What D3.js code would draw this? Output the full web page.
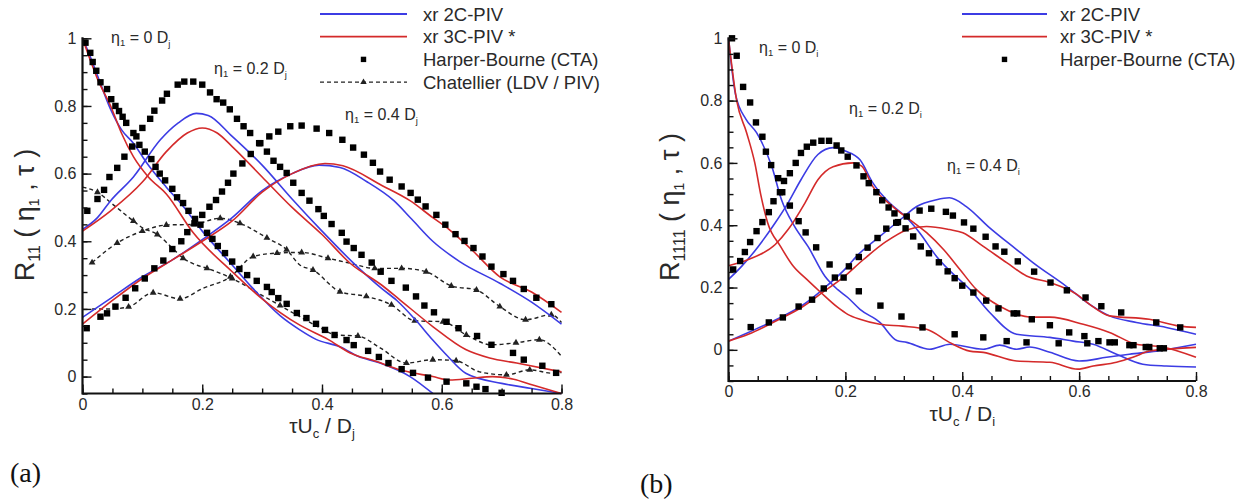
<!DOCTYPE html>
<html><head><meta charset="utf-8">
<script src="https://cdn.jsdelivr.net/npm/d3@7"></script>
<style>body{margin:0;background:#fff}svg{display:block}</style>
</head><body>
<svg id="c" width="1252" height="501"></svg>
<script>
// ---------- tick labels / text ----------
const xTickValues = [0, 0.2, 0.4, 0.6, 0.8];
const xTickLabels = ["0", "0.2", "0.4", "0.6", "0.8"];
const yTickValues = [0, 0.2, 0.4, 0.6, 0.8, 1];
const yTickLabels = ["0", "0.2", "0.4", "0.6", "0.8", "1"];
const legendLabelsA = ["xr 2C-PIV", "xr 3C-PIV *", "Harper-Bourne (CTA)", "Chatellier (LDV / PIV)"];
const legendLabelsB = ["xr 2C-PIV", "xr 3C-PIV *", "Harper-Bourne (CTA)"];
const etaValues = ["0", "0.2", "0.4"];

// ---------- panel (a) : R11 ----------
const a_2C_eta0 = [[0,1],[0.012,0.95],[0.025,0.89],[0.047,0.79],[0.065,0.73],[0.085,0.69],[0.108,0.63],[0.14,0.56],[0.165,0.51],[0.2,0.43],[0.25,0.33],[0.285,0.26],[0.33,0.18],[0.363,0.138],[0.39,0.11],[0.43,0.088],[0.46,0.06],[0.497,0.04],[0.547,0.0],[0.585,-0.05]];
const a_3C_eta0 = [[0,1],[0.012,0.94],[0.025,0.88],[0.047,0.8],[0.065,0.72],[0.085,0.65],[0.11,0.59],[0.14,0.54],[0.185,0.425],[0.25,0.31],[0.3,0.23],[0.363,0.152],[0.41,0.11],[0.447,0.07],[0.49,0.045],[0.53,0.02],[0.585,0.0],[0.613,-0.01],[0.65,-0.005],[0.685,0.0],[0.72,-0.008],[0.752,-0.025],[0.8,-0.05]];
const a_2C_eta2 = [[0,0.435],[0.025,0.47],[0.047,0.52],[0.085,0.59],[0.13,0.7],[0.16,0.75],[0.19,0.778],[0.21,0.772],[0.25,0.71],[0.3,0.625],[0.35,0.525],[0.4,0.43],[0.45,0.34],[0.5,0.26],[0.525,0.225],[0.555,0.17],[0.585,0.108],[0.61,0.06],[0.64,0.01],[0.7,-0.02],[0.75,-0.035],[0.8,-0.05]];
const a_3C_eta2 = [[0,0.43],[0.047,0.49],[0.1,0.575],[0.14,0.665],[0.175,0.72],[0.2,0.735],[0.225,0.72],[0.25,0.68],[0.3,0.59],[0.35,0.5],[0.4,0.42],[0.447,0.335],[0.5,0.27],[0.53,0.227],[0.585,0.148],[0.64,0.08],[0.68,0.055],[0.725,0.04],[0.8,0.014]];
const a_2C_eta4 = [[0,0.175],[0.05,0.235],[0.1,0.295],[0.15,0.345],[0.2,0.405],[0.25,0.47],[0.3,0.55],[0.35,0.6],[0.395,0.625],[0.43,0.618],[0.475,0.576],[0.52,0.52],[0.55,0.465],[0.585,0.4],[0.63,0.34],[0.697,0.276],[0.75,0.22],[0.8,0.155]];
const a_3C_eta4 = [[0,0.155],[0.05,0.225],[0.1,0.29],[0.15,0.345],[0.2,0.4],[0.25,0.46],[0.3,0.545],[0.35,0.6],[0.405,0.63],[0.435,0.623],[0.5,0.565],[0.547,0.52],[0.585,0.47],[0.613,0.434],[0.65,0.375],[0.697,0.295],[0.75,0.25],[0.8,0.19]];

const a_HB_eta0 = [[0.005,0.987],[0.013,0.957],[0.017,0.93],[0.023,0.904],[0.03,0.87],[0.041,0.85],[0.048,0.82],[0.055,0.8],[0.061,0.785],[0.067,0.768],[0.073,0.75],[0.085,0.72],[0.09,0.71],[0.095,0.685],[0.104,0.665],[0.115,0.643],[0.122,0.62],[0.129,0.6],[0.138,0.58],[0.15,0.555],[0.158,0.53],[0.168,0.513],[0.177,0.49],[0.188,0.466],[0.197,0.449],[0.208,0.425],[0.217,0.407],[0.226,0.386],[0.238,0.365],[0.25,0.34],[0.262,0.318],[0.275,0.3],[0.291,0.283],[0.308,0.265],[0.316,0.25],[0.327,0.232],[0.341,0.215],[0.358,0.188],[0.374,0.173],[0.39,0.156],[0.405,0.138],[0.421,0.123],[0.441,0.108],[0.453,0.093],[0.477,0.076],[0.495,0.058],[0.511,0.04],[0.533,0.022],[0.552,0.011],[0.577,-0.003],[0.608,-0.015],[0.641,-0.02],[0.658,-0.03],[0.673,-0.037],[0.7,-0.048]];
const a_HB_eta2 = [[0.008,0.49],[0.025,0.525],[0.036,0.552],[0.045,0.59],[0.058,0.617],[0.07,0.65],[0.083,0.68],[0.1,0.735],[0.113,0.762],[0.12,0.786],[0.133,0.816],[0.141,0.836],[0.159,0.863],[0.17,0.872],[0.185,0.872],[0.2,0.863],[0.213,0.84],[0.224,0.82],[0.235,0.81],[0.246,0.79],[0.258,0.762],[0.269,0.74],[0.28,0.72],[0.295,0.69],[0.308,0.665],[0.319,0.638],[0.33,0.62],[0.341,0.602],[0.352,0.573],[0.366,0.543],[0.379,0.52],[0.394,0.495],[0.403,0.475],[0.416,0.451],[0.433,0.425],[0.441,0.399],[0.453,0.38],[0.466,0.36],[0.483,0.337],[0.498,0.31],[0.516,0.283],[0.54,0.263],[0.557,0.237],[0.571,0.21],[0.587,0.19],[0.608,0.162],[0.628,0.143],[0.659,0.12],[0.683,0.094],[0.719,0.07],[0.737,0.05],[0.768,0.032],[0.791,0.011]];
const a_HB_eta4 = [[0.007,0.143],[0.03,0.177],[0.041,0.187],[0.055,0.207],[0.072,0.233],[0.088,0.261],[0.104,0.29],[0.12,0.32],[0.135,0.343],[0.15,0.377],[0.165,0.4],[0.175,0.427],[0.187,0.453],[0.2,0.478],[0.212,0.502],[0.223,0.522],[0.233,0.547],[0.243,0.573],[0.252,0.6],[0.267,0.63],[0.281,0.658],[0.297,0.69],[0.312,0.71],[0.327,0.724],[0.347,0.74],[0.366,0.742],[0.391,0.733],[0.412,0.72],[0.434,0.7],[0.452,0.677],[0.47,0.656],[0.485,0.632],[0.497,0.606],[0.513,0.582],[0.533,0.562],[0.548,0.543],[0.56,0.523],[0.573,0.503],[0.591,0.478],[0.606,0.449],[0.623,0.421],[0.638,0.401],[0.653,0.38],[0.668,0.355],[0.683,0.325],[0.703,0.303],[0.719,0.283],[0.737,0.259],[0.758,0.233],[0.783,0.214]];

// Chatellier: [x, y, triangleMarker]
const a_CH_eta0 = [[0,0.56,0],[0.025,0.545,1],[0.05,0.51,0],[0.085,0.46,1],[0.1,0.44,0],[0.125,0.42,1],[0.15,0.38,0],[0.168,0.35,1],[0.19,0.33,0],[0.208,0.32,1],[0.25,0.29,1],[0.3,0.24,0],[0.33,0.21,1],[0.363,0.177,0],[0.397,0.144,0],[0.424,0.123,0],[0.46,0.12,1],[0.497,0.085,0],[0.541,0.04,1],[0.585,0.05,1],[0.624,0.047,1],[0.663,0.014,0],[0.708,0.005,1],[0.747,0.02,1],[0.785,0.01,0],[0.8,0.012,0]];
const a_CH_eta2 = [[0.016,0.337,1],[0.058,0.395,1],[0.1,0.43,1],[0.14,0.448,1],[0.185,0.45,1],[0.23,0.468,1],[0.263,0.453,1],[0.308,0.41,1],[0.341,0.375,1],[0.363,0.33,0],[0.385,0.315,1],[0.43,0.251,1],[0.474,0.237,1],[0.516,0.212,1],[0.555,0.165,1],[0.602,0.162,1],[0.641,0.123,1],[0.683,0.094,0],[0.724,0.1,1],[0.763,0.109,1],[0.8,0.06,0]];
const a_CH_eta4 = [[0.016,0.2,0],[0.047,0.2,0],[0.077,0.206,1],[0.118,0.248,1],[0.163,0.23,1],[0.2,0.26,0],[0.247,0.295,1],[0.285,0.355,1],[0.325,0.365,1],[0.366,0.367,1],[0.41,0.35,1],[0.447,0.335,0],[0.488,0.32,1],[0.533,0.32,1],[0.574,0.31,1],[0.616,0.268,1],[0.658,0.256,1],[0.697,0.207,1],[0.74,0.168,1],[0.783,0.183,1],[0.8,0.16,0]];

// ---------- panel (b) : R1111 ----------
const b_2C_eta0 = [[0,1],[0.012,0.82],[0.03,0.74],[0.048,0.697],[0.074,0.589],[0.091,0.48],[0.113,0.396],[0.136,0.332],[0.165,0.236],[0.187,0.193],[0.204,0.168],[0.225,0.13],[0.259,0.088],[0.288,0.03],[0.305,0.024],[0.344,0.002],[0.379,0.018],[0.436,0.002],[0.464,0.015],[0.493,0.002],[0.515,0.009],[0.55,-0.008],[0.6,-0.036],[0.647,-0.024],[0.686,-0.014],[0.732,-0.004],[0.8,0.018]];
const b_3C_eta0 = [[0,1],[0.014,0.8],[0.031,0.697],[0.045,0.6],[0.055,0.5],[0.067,0.408],[0.089,0.332],[0.111,0.268],[0.134,0.226],[0.158,0.184],[0.187,0.136],[0.204,0.114],[0.225,0.098],[0.259,0.082],[0.298,0.076],[0.339,0.066],[0.378,0.024],[0.413,-0.004],[0.436,-0.008],[0.493,-0.036],[0.55,-0.04],[0.598,-0.062],[0.624,-0.052],[0.664,-0.04],[0.692,-0.024],[0.72,-0.004],[0.749,0.002],[0.8,0.008]];
const b_2C_eta2 = [[0,0.226],[0.022,0.267],[0.051,0.332],[0.08,0.408],[0.102,0.472],[0.124,0.546],[0.153,0.627],[0.179,0.649],[0.2,0.638],[0.225,0.61],[0.247,0.536],[0.276,0.471],[0.305,0.424],[0.327,0.376],[0.356,0.3],[0.378,0.255],[0.413,0.194],[0.447,0.12],[0.493,0.05],[0.55,0.04],[0.59,0.028],[0.624,0.018],[0.664,-0.014],[0.709,-0.046],[0.749,-0.052],[0.8,-0.055]];
const b_3C_eta2 = [[0,0.27],[0.034,0.29],[0.08,0.338],[0.102,0.386],[0.131,0.472],[0.153,0.546],[0.179,0.588],[0.213,0.6],[0.228,0.59],[0.247,0.524],[0.281,0.46],[0.31,0.418],[0.339,0.376],[0.368,0.322],[0.396,0.258],[0.424,0.194],[0.464,0.14],[0.521,0.105],[0.55,0.105],[0.607,0.082],[0.652,0.056],[0.698,0.018],[0.743,0.009],[0.8,-0.024]];
const b_2C_eta4 = [[0,0.028],[0.034,0.056],[0.089,0.104],[0.124,0.14],[0.165,0.2],[0.204,0.268],[0.219,0.3],[0.259,0.364],[0.298,0.424],[0.322,0.46],[0.356,0.482],[0.378,0.488],[0.407,0.46],[0.445,0.395],[0.493,0.322],[0.521,0.28],[0.578,0.204],[0.618,0.146],[0.652,0.109],[0.698,0.088],[0.749,0.072],[0.8,0.05]];
const b_3C_eta4 = [[0,0.028],[0.034,0.05],[0.089,0.1],[0.124,0.135],[0.165,0.19],[0.196,0.232],[0.231,0.29],[0.27,0.348],[0.305,0.385],[0.339,0.396],[0.378,0.386],[0.401,0.376],[0.436,0.332],[0.476,0.28],[0.51,0.237],[0.55,0.216],[0.596,0.178],[0.618,0.146],[0.652,0.109],[0.72,0.098],[0.772,0.076],[0.8,0.072]];

const b_HB_eta0 = [[0.006,1.0],[0.014,0.944],[0.025,0.844],[0.037,0.794],[0.047,0.73],[0.058,0.684],[0.064,0.636],[0.073,0.593],[0.085,0.551],[0.092,0.506],[0.105,0.463],[0.12,0.413],[0.132,0.377],[0.15,0.329],[0.173,0.274],[0.197,0.232],[0.223,0.188],[0.26,0.142],[0.296,0.107],[0.332,0.072],[0.387,0.05],[0.436,0.04],[0.476,0.028],[0.51,0.024],[0.565,0.021],[0.614,0.021],[0.652,0.024],[0.686,0.015],[0.714,0.009],[0.738,0.005]];
const b_HB_eta2 = [[0.008,0.258],[0.02,0.285],[0.028,0.314],[0.037,0.346],[0.048,0.381],[0.058,0.41],[0.069,0.442],[0.077,0.477],[0.088,0.506],[0.095,0.542],[0.105,0.567],[0.115,0.6],[0.124,0.632],[0.134,0.652],[0.145,0.665],[0.159,0.671],[0.172,0.671],[0.185,0.656],[0.193,0.64],[0.204,0.62],[0.219,0.592],[0.231,0.557],[0.24,0.535],[0.253,0.506],[0.263,0.48],[0.274,0.457],[0.284,0.438],[0.29,0.41],[0.303,0.39],[0.316,0.364],[0.329,0.332],[0.343,0.31],[0.36,0.281],[0.375,0.252],[0.387,0.23],[0.4,0.206],[0.419,0.184],[0.441,0.158],[0.462,0.133],[0.488,0.117],[0.494,0.117],[0.519,0.098],[0.55,0.079],[0.583,0.056],[0.609,0.044],[0.633,0.028],[0.661,0.024],[0.693,0.015],[0.72,0.009],[0.745,0.005]];
const b_HB_eta4 = [[0.038,0.073],[0.069,0.088],[0.093,0.104],[0.12,0.139],[0.143,0.161],[0.163,0.197],[0.182,0.232],[0.206,0.268],[0.223,0.298],[0.238,0.328],[0.255,0.359],[0.27,0.389],[0.287,0.408],[0.305,0.428],[0.327,0.447],[0.347,0.453],[0.372,0.443],[0.384,0.431],[0.403,0.409],[0.419,0.389],[0.44,0.363],[0.457,0.332],[0.472,0.315],[0.495,0.284],[0.523,0.251],[0.551,0.216],[0.579,0.191],[0.611,0.168],[0.638,0.14],[0.672,0.12],[0.732,0.088],[0.773,0.072]];

// ---------- drawing ----------
const BLUE = "#3c3ce4", RED = "#d42a2a", INK = "#111", TXT = "#2a2a2a";
const FONT = "'Liberation Sans', Arial, Helvetica, sans-serif";
const svg = d3.select("#c").style("font-family", FONT);

function etaLabel(g, x, y, val, subD) {
  const t = g.append("text").attr("x", x).attr("y", y).attr("font-size", 16).attr("fill", TXT);
  t.append("tspan").text("η");
  t.append("tspan").attr("font-size", 9.5).attr("dy", 3).text("1");
  t.append("tspan").attr("dy", -3).text(" = " + val + " D");
  t.append("tspan").attr("font-size", 9.5).attr("dy", 4).text(subD);
}

function panel(cfg) {
  const x = d3.scaleLinear().domain([0, 0.8]).range(cfg.xr);
  const y = d3.scaleLinear().domain(cfg.yd).range(cfg.yr);
  const g = svg.append("g");
  const line = d3.line().x(d => x(d[0])).y(d => y(d[1])).curve(d3.curveMonotoneX);

  // Chatellier dashed lines
  (cfg.ch || []).forEach(s => {
    g.append("path").attr("d", line(s)).attr("fill", "none").attr("stroke", "#222")
      .attr("stroke-width", 1.4).attr("stroke-dasharray", "4,3");
    g.selectAll(null).data(s.filter(d => d[2] === 1)).enter().append("path")
      .attr("d", d3.symbol(d3.symbolTriangle).size(20))
      .attr("transform", d => `translate(${x(d[0])},${y(d[1])})`).attr("fill", "#222");
  });
  cfg.blue.forEach(s => g.append("path").attr("d", line(s)).attr("fill", "none").attr("stroke", BLUE).attr("stroke-width", 1.6));
  cfg.red.forEach(s => g.append("path").attr("d", line(s)).attr("fill", "none").attr("stroke", RED).attr("stroke-width", 1.6));
  cfg.hb.forEach(s => g.selectAll(null).data(s).enter().append("rect")
    .attr("x", d => x(d[0]) - 3.2).attr("y", d => y(d[1]) - 3.2).attr("width", 6.4).attr("height", 6.4).attr("fill", "#000"));

  // axes
  const y0 = cfg.yr[0];
  const minorX = d3.range(0, 0.8001, 0.05);
  const minorY = d3.range(cfg.yd[0], 1.0001, 0.05).map(v => +v.toFixed(2));
  const ax = g.append("g").attr("transform", `translate(0,${y0})`);
  ax.call(d3.axisBottom(x).tickValues(minorX).tickSize(-5).tickFormat(""));
  ax.append("g").call(d3.axisBottom(x).tickValues(xTickValues).tickSize(-9).tickPadding(5)
    .tickFormat((d, i) => xTickLabels[i]));
  const ay = g.append("g").attr("transform", `translate(${cfg.xr[0]},0)`);
  ay.call(d3.axisLeft(y).tickValues(minorY).tickSize(-5).tickFormat(""));
  ay.append("g").call(d3.axisLeft(y).tickValues(yTickValues).tickSize(-9).tickPadding(6)
    .tickFormat((d, i) => yTickLabels[i]));
  g.selectAll(".domain").remove();
  g.selectAll(".tick line").attr("stroke", INK).attr("stroke-width", 1.4);
  g.selectAll(".tick text").attr("font-size", 16).attr("fill", TXT).attr("font-family", FONT);
  g.append("line").attr("x1", cfg.xr[0]).attr("x2", cfg.xr[1]).attr("y1", y0).attr("y2", y0).attr("stroke", INK).attr("stroke-width", 2.2);
  g.append("line").attr("x1", cfg.xr[0]).attr("x2", cfg.xr[0]).attr("y1", y0 + 1.1).attr("y2", y(1) - 1).attr("stroke", INK).attr("stroke-width", 2.2);

  // axis titles
  const xt = g.append("text").attr("x", (cfg.xr[0] + cfg.xr[1]) / 2).attr("y", cfg.xtY)
    .attr("text-anchor", "middle").attr("font-size", 21).attr("fill", TXT);
  xt.append("tspan").text("τU");
  xt.append("tspan").attr("font-size", 13).attr("dy", 5).text("c");
  xt.append("tspan").attr("dy", -5).text(" / D");
  xt.append("tspan").attr("font-size", 13).attr("dy", 5).text(cfg.xsub);

  const yt = g.append("text").attr("transform", `translate(${cfg.ytX},${cfg.ytY}) rotate(-90)`)
    .attr("text-anchor", "middle").attr("font-size", 27).attr("fill", TXT);
  yt.append("tspan").text("R");
  yt.append("tspan").attr("font-size", 16).attr("dy", 6).text(cfg.rsub);
  yt.append("tspan").attr("dy", -6).text(" ( η");
  yt.append("tspan").attr("font-size", 14).attr("dy", 5).text("1");
  yt.append("tspan").attr("dy", -5).text(" , τ )");

  // eta annotations
  cfg.eta.forEach((p, i) => etaLabel(g, p[0], p[1], etaValues[i], cfg.xsub));

  // legend
  const L = cfg.leg;
  cfg.legLabels.forEach((lab, i) => {
    const ly = L.y + i * 22.7;
    if (i === 0 || i === 1) {
      g.append("line").attr("x1", L.x1).attr("x2", L.x2).attr("y1", ly).attr("y2", ly)
        .attr("stroke", i === 0 ? BLUE : RED).attr("stroke-width", 1.8);
    } else if (i === 2) {
      const cx = (L.x1 + L.x2) / 2;
      g.append("rect").attr("x", cx - 2.7).attr("y", ly - 2.7).attr("width", 5.4).attr("height", 5.4).attr("fill", "#000");
    } else {
      const cx = (L.x1 + L.x2) / 2;
      g.append("line").attr("x1", L.x1).attr("x2", L.x2).attr("y1", ly).attr("y2", ly)
        .attr("stroke", "#222").attr("stroke-width", 1.4).attr("stroke-dasharray", "4,3");
      g.append("path").attr("d", d3.symbol(d3.symbolTriangle).size(18)).attr("transform", `translate(${cx},${ly})`).attr("fill", "#222");
    }
    g.append("text").attr("x", L.tx).attr("y", ly + 6.5).attr("font-size", 18.5).attr("fill", TXT).text(lab);
  });

  svg.append("text").attr("x", cfg.tag[0]).attr("y", cfg.tag[1]).attr("font-size", 28)
    .attr("font-family", "'Liberation Serif', 'DejaVu Serif', serif").attr("fill", "#111").text(cfg.tagText);
}

panel({
  xr: [82.5, 561.5], yd: [-0.05, 1], yr: [393.5, 38.3],
  blue: [a_2C_eta0, a_2C_eta2, a_2C_eta4], red: [a_3C_eta0, a_3C_eta2, a_3C_eta4],
  hb: [a_HB_eta0, a_HB_eta2, a_HB_eta4], ch: [a_CH_eta0, a_CH_eta2, a_CH_eta4],
  xtY: 433, xsub: "j", ytX: 34, ytY: 215, rsub: "11",
  eta: [[111, 43], [214, 74], [345, 120]],
  leg: { x1: 320, x2: 407, y: 14, tx: 423 }, legLabels: legendLabelsA,
  tag: [10, 482], tagText: "(a)"
});
panel({
  xr: [728.5, 1196], yd: [-0.1, 1], yr: [381, 38.3],
  blue: [b_2C_eta0, b_2C_eta2, b_2C_eta4], red: [b_3C_eta0, b_3C_eta2, b_3C_eta4],
  hb: [b_HB_eta0, b_HB_eta2, b_HB_eta4], ch: [],
  xtY: 421, xsub: "i", ytX: 679, ytY: 207, rsub: "1111",
  eta: [[759, 53], [849, 114], [947, 171]],
  leg: { x1: 962, x2: 1047, y: 14, tx: 1060 }, legLabels: legendLabelsB,
  tag: [640, 493], tagText: "(b)"
});
</script>
</body></html>
